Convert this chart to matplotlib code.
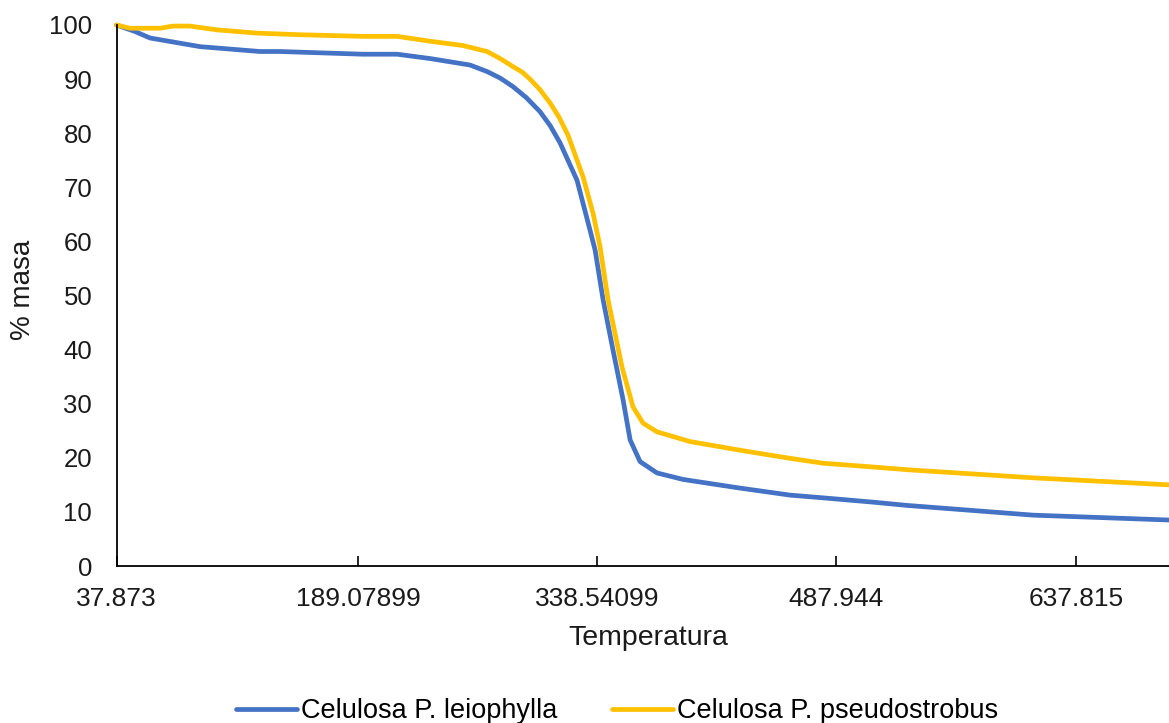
import matplotlib
matplotlib.use("Agg")
import matplotlib.pyplot as plt

plt.rcParams['font.family'] = ['Liberation Sans', 'DejaVu Sans']

# temperatura vs % masa
temp_leio = [37.9, 49.4, 58.8, 90.1, 127.6, 140.1, 192.0, 213.3, 233.9, 258.9,
             269.5, 277.7, 285.8, 294.0, 302.6, 309.0, 315.2, 325.8, 333.9, 337.1, 342.1,
             348.3, 354.6, 359.0, 365.2, 375.8, 392.1, 396.5, 427.7, 459.0, 479.6,
             510.9, 532.1, 610.9, 695.9]
masa_leio = [100.0, 98.8, 97.6, 96.0, 95.1, 95.1, 94.6, 94.6, 93.8, 92.6,
             91.4, 90.2, 88.6, 86.6, 84.0, 81.4, 78.2, 71.3, 62.1, 58.4, 49.2,
             39.9, 30.7, 23.3, 19.3, 17.2, 16.0, 15.8, 14.4, 13.1, 12.6,
             11.8, 11.2, 9.4, 8.5]

temp_pseudo = [37.9, 46.3, 65.1, 73.2, 83.8, 100.7, 125.7, 152.6, 192.0, 213.3,
               233.9, 254.5, 269.5, 277.7, 285.8, 291.5, 296.4, 302.5, 308.9, 314.5,
               320.2, 329.6, 335.8, 340.2, 345.2, 353.9, 360.8, 367.1, 375.8, 396.5,
               427.7, 459.0, 479.6, 510.9, 532.1, 610.9, 695.9]
masa_pseudo = [100.0, 99.4, 99.4, 99.8, 99.8, 99.1, 98.5, 98.2, 97.9, 97.9,
               97.0, 96.2, 95.1, 93.8, 92.3, 91.3, 90.0, 88.1, 85.6, 83.0,
               79.6, 71.9, 65.2, 59.0, 49.2, 36.8, 29.4, 26.4, 24.8, 23.0,
               21.4, 19.9, 19.0, 18.3, 17.8, 16.3, 15.0]

tick_vals = [37.873, 189.07899, 338.54099, 487.944, 637.815]
tick_labels = ['37.873', '189.07899', '338.54099', '487.944', '637.815']

W, H = 1169, 723
fig = plt.figure(figsize=(W / 100, H / 100), dpi=100)
ax = fig.add_axes([116.5 / W, 1 - 566 / H, 1 - 116.5 / W, (566 - 25) / H])

ax.plot(temp_leio, masa_leio, color='#4472C4', lw=3.4, label='Celulosa P. leiophylla',
        solid_capstyle='round', solid_joinstyle='round', clip_on=False)
ax.plot(temp_pseudo, masa_pseudo, color='#FFC000', lw=3.4, label='Celulosa P. pseudostrobus',
        solid_capstyle='round', solid_joinstyle='round', clip_on=False)

ax.set_xlim(37.873, 695.9)
ax.set_ylim(0, 100)
ax.set_yticks(range(0, 101, 10))
ax.set_xticks(tick_vals)
ax.set_xticklabels(tick_labels)

for s in ['top', 'right']:
    ax.spines[s].set_visible(False)
for s in ['left', 'bottom']:
    ax.spines[s].set_linewidth(1.3)
    ax.spines[s].set_color('#000000')

ax.tick_params(axis='x', direction='in', length=7, width=1.2, pad=15, labelsize=19,
               colors='#000000')
ax.tick_params(axis='y', length=0, pad=17.5, labelsize=18.5, colors='#000000')
for lbl in ax.get_xticklabels() + ax.get_yticklabels():
    lbl.set_color('#1a1a1a')

fig.text(648 / W, 1 - 645 / H, 'Temperatura', ha='center', va='baseline',
         fontsize=20.5, color='#1a1a1a')
fig.text(23 / W, 1 - 290 / H, '% masa', ha='center', va='center', rotation=90,
         fontsize=20, color='#1a1a1a')

fig.legend(loc='center', bbox_to_anchor=(617 / W, 1 - 711 / H), ncol=2, frameon=False,
           fontsize=19.5, handlelength=2.25, handletextpad=0.15, columnspacing=2.0)

fig.savefig('out.png', dpi=100)
